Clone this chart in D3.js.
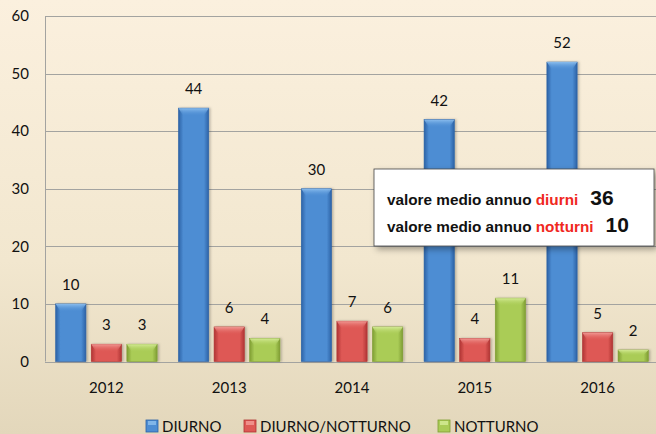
<!DOCTYPE html>
<html>
<head>
<meta charset="utf-8">
<script src="https://cdn.jsdelivr.net/npm/d3@7"></script>
<style>
  html, body { margin: 0; padding: 0; background: #f3e8d2; }
  svg { display: block; }
</style>
</head>
<body>
<svg id="chart" width="656" height="434"></svg>
<script>
// Yearly counts by shift type
const years = ["2012", "2013", "2014", "2015", "2016"];
const seriesNames = ["DIURNO", "DIURNO/NOTTURNO", "NOTTURNO"];
const diurno = [10, 44, 30, 42, 52];
const diurnoNotturno = [3, 6, 7, 4, 5];
const notturno = [3, 4, 6, 11, 2];
const yTicks = [0, 10, 20, 30, 40, 50, 60];
const avgDiurni = 36;
const avgNotturni = 10;

const seriesValues = [diurno, diurnoNotturno, notturno];
const palette = [
  { mid: "#4d8dd3", edge: "#2c62a6", top: "#8ec0ef" },
  { mid: "#de5955", edge: "#b03434", top: "#f29c97" },
  { mid: "#aacc57", edge: "#7f9e33", top: "#d6ec98" }
];

const W = 656, H = 434;
const margin = { left: 45, right: -3, top: 16, bottom: 72 };
const svg = d3.select("#chart");
const defs = svg.append("defs");

// page background
const bg = defs.append("linearGradient").attr("id", "bg").attr("x1", 0).attr("y1", 0).attr("x2", 0).attr("y2", 1);
bg.append("stop").attr("offset", "0%").attr("stop-color", "#fbf0de");
bg.append("stop").attr("offset", "60%").attr("stop-color", "#f2e7cf");
bg.append("stop").attr("offset", "100%").attr("stop-color", "#e3d7bb");
svg.append("rect").attr("width", W).attr("height", H).attr("fill", "url(#bg)");

// bar gradients (rounded bevel look)
palette.forEach((p, i) => {
  const g = defs.append("linearGradient").attr("id", "bar" + i).attr("x1", 0).attr("x2", 1).attr("y1", 0).attr("y2", 0);
  g.append("stop").attr("offset", "0%").attr("stop-color", p.edge);
  g.append("stop").attr("offset", "16%").attr("stop-color", p.mid);
  g.append("stop").attr("offset", "84%").attr("stop-color", p.mid);
  g.append("stop").attr("offset", "100%").attr("stop-color", p.edge);
  const t = defs.append("linearGradient").attr("id", "cap" + i).attr("x1", 0).attr("x2", 0).attr("y1", 0).attr("y2", 1);
  t.append("stop").attr("offset", "0%").attr("stop-color", p.top).attr("stop-opacity", 0.95);
  t.append("stop").attr("offset", "100%").attr("stop-color", p.mid).attr("stop-opacity", 0);
});

const shadow = defs.append("filter").attr("id", "shadow").attr("x", "-10%").attr("y", "-10%").attr("width", "130%").attr("height", "140%");
shadow.append("feDropShadow").attr("dx", 3).attr("dy", 3).attr("stdDeviation", 3).attr("flood-color", "#000").attr("flood-opacity", 0.35);
const barShadow = defs.append("filter").attr("id", "barShadow").attr("x", "-20%").attr("y", "-10%").attr("width", "150%").attr("height", "120%");
barShadow.append("feDropShadow").attr("dx", 1.5).attr("dy", 0).attr("stdDeviation", 1.2).attr("flood-color", "#000").attr("flood-opacity", 0.25);

const x0 = d3.scaleBand().domain(years).range([margin.left, W - margin.right]).paddingInner(0).paddingOuter(0);
const x1 = d3.scaleBand().domain(seriesNames).range([0, x0.bandwidth()]).paddingInner(0.15).paddingOuter(0.3);
const y = d3.scaleLinear().domain([0, 60]).range([H - margin.bottom - 0.5, margin.top]);

const font = "Lato, 'Open Sans', sans-serif";

// gridlines
svg.append("g").selectAll("line").data(yTicks).join("line")
  .attr("x1", margin.left).attr("x2", W)
  .attr("y1", d => Math.round(y(d)) + 0.5).attr("y2", d => Math.round(y(d)) + 0.5)
  .attr("stroke", "#a3a3a0").attr("stroke-width", 1);
svg.append("line")
  .attr("x1", margin.left + 0.5).attr("x2", margin.left + 0.5)
  .attr("y1", y(60)).attr("y2", y(0))
  .attr("stroke", "#a3a3a0");

// y axis labels
const yAxis = d3.axisLeft(y).tickValues(yTicks).tickSize(0).tickPadding(16);
svg.append("g").attr("transform", `translate(${margin.left},0)`).call(yAxis)
  .call(g => g.select(".domain").remove())
  .selectAll("text").attr("font-family", font).attr("font-size", 15).attr("fill", "#111");

// x axis labels
const xAxis = d3.axisBottom(x0).tickSize(0).tickPadding(21);
svg.append("g").attr("transform", `translate(0,${y(0)})`).call(xAxis)
  .call(g => g.select(".domain").remove())
  .selectAll("text").attr("font-family", font).attr("font-size", 15).attr("fill", "#111");

// bars
const rows = [];
years.forEach((yr, i) => seriesNames.forEach((s, j) => rows.push({ yr, s, j, v: seriesValues[j][i] })));

const groups = svg.append("g").selectAll("g").data(rows).join("g")
  .attr("transform", d => `translate(${x0(d.yr) + x1(d.s)},0)`);

groups.append("rect")
  .attr("x", 0).attr("y", d => y(d.v))
  .attr("width", x1.bandwidth()).attr("height", d => y(0) - y(d.v))
  .attr("fill", d => `url(#bar${d.j})`)
  .attr("stroke", d => palette[d.j].edge).attr("stroke-width", 0.6)
  .attr("filter", "url(#barShadow)");
groups.append("path")
  .attr("d", d => {
    const w = x1.bandwidth(), t = y(d.v), h = Math.min(8, (y(0) - y(d.v)) / 2);
    return `M0,${t} L${w},${t} L${w - 5},${t + h} L5,${t + h} Z`;
  })
  .attr("fill", d => `url(#cap${d.j})`);

groups.append("text")
  .attr("x", x1.bandwidth() / 2).attr("y", d => y(d.v) - 14)
  .attr("text-anchor", "middle")
  .attr("font-family", font).attr("font-size", 15).attr("fill", "#111")
  .text(d => d.v);

// average box
const box = svg.append("g").attr("transform", "translate(374,169)");
box.append("rect").attr("width", 280).attr("height", 77).attr("fill", "#fff")
  .attr("stroke", "#444").attr("stroke-width", 0.8).attr("filter", "url(#shadow)");
const lines = [
  { pre: "valore medio annuo ", hl: "diurni", val: avgDiurni, y: 36 },
  { pre: "valore medio annuo ", hl: "notturni", val: avgNotturni, y: 63 }
];
lines.forEach(l => {
  const t = box.append("text").attr("x", 13).attr("y", l.y)
    .attr("font-family", "'Liberation Sans', Arial, sans-serif").attr("font-weight", "bold").attr("font-size", 15.3).attr("fill", "#111");
  t.append("tspan").text(l.pre);
  t.append("tspan").attr("fill", "#f0281e").text(l.hl);
  t.append("tspan").attr("font-size", 21).attr("dx", 12).text(l.val);
});

// legend
const legendX = [146, 244, 438];
const legend = svg.append("g").selectAll("g").data(seriesNames).join("g")
  .attr("transform", (d, i) => `translate(${legendX[i]},420)`);
legend.append("rect").attr("width", 12).attr("height", 12)
  .attr("fill", (d, i) => palette[i].mid).attr("stroke", (d, i) => palette[i].edge).attr("stroke-width", 0.8);
legend.append("rect").attr("x", 2).attr("y", 1).attr("width", 8).attr("height", 4)
  .attr("fill", (d, i) => palette[i].top).attr("opacity", 0.8);
legend.append("text").attr("x", 16).attr("y", 12)
  .attr("font-family", font).attr("font-size", 15).attr("fill", "#111")
  .text(d => d);
</script>
</body>
</html>
